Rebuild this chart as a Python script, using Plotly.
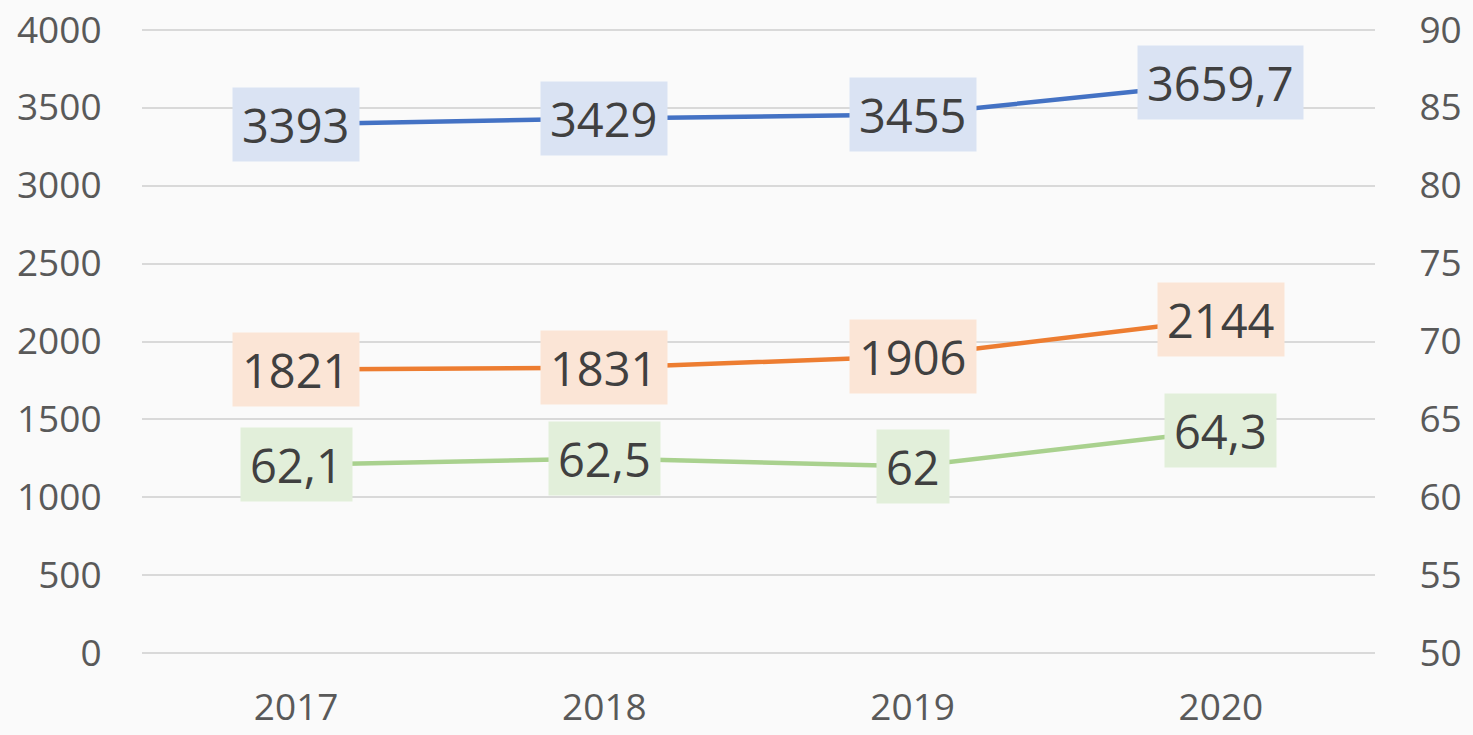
import plotly.graph_objects as go

years = ["2017", "2018", "2019", "2020"]
series_blue = [3393, 3429, 3455, 3659.7]
series_orange = [1821, 1831, 1906, 2144]
series_green = [62.1, 62.5, 62.0, 64.3]

left_ticks = [0, 500, 1000, 1500, 2000, 2500, 3000, 3500, 4000]
right_ticks = [50, 55, 60, 65, 70, 75, 80, 85, 90]

def fmt(v):
    s = ("%g" % v)
    return s.replace(".", ",")

fig = go.Figure()
series = [
    (series_blue, "#4472C4", "#DAE3F3", "y"),
    (series_orange, "#ED7D31", "#FBE5D6", "y"),
    (series_green, "#A9D18E", "#E2EFDA", "y2"),
]
annotations = []
for vals, col, bg, ax in series:
    fig.add_trace(go.Scatter(x=years, y=vals, mode="lines", yaxis=ax,
                             line=dict(color=col, width=4.5), showlegend=False,
                             hoverinfo="skip"))
    for xv, yv in zip(years, vals):
        annotations.append(dict(x=years.index(xv), y=yv, xref="x", yref=ax, text=fmt(yv),
                                showarrow=False, bgcolor=bg, borderpad=9, height=55,
                                font=dict(family="Open Sans", size=47, color="#404040"),
                                xanchor="center", yanchor="middle"))

fig.update_layout(
    width=1473, height=735,
    margin=dict(l=142, r=98, t=28, b=80),
    paper_bgcolor="#FAFAFA", plot_bgcolor="#FAFAFA",
    font=dict(family="Open Sans", size=37, color="#595959"),
    annotations=annotations,
    xaxis=dict(type="category", range=[-0.5, 3.5], showgrid=False, zeroline=False,
               showline=False, ticks="outside", ticklen=20, tickcolor="rgba(0,0,0,0)",
               automargin=False,
               tickfont=dict(size=37, color="#595959")),
    yaxis=dict(range=[-10, 4010], tickvals=left_ticks, ticktext=[str(t) for t in left_ticks],
               showgrid=True, gridcolor="#D9D9D9", gridwidth=1.5, zeroline=False,
               showline=False, ticks="outside", ticklen=32, tickcolor="rgba(0,0,0,0)",
               automargin=False,
               tickfont=dict(size=37, color="#595959")),
    yaxis2=dict(range=[49.9, 90.1], tickvals=right_ticks, ticktext=[str(t) for t in right_ticks],
                overlaying="y", side="right", showgrid=False, zeroline=False,
                showline=False, ticks="outside", ticklen=36, tickcolor="rgba(0,0,0,0)",
                automargin=False,
                tickfont=dict(size=37, color="#595959")),
)

fig.write_html("out.html", config={"displayModeBar": False},
               post_script="document.body.style.margin='0';")
